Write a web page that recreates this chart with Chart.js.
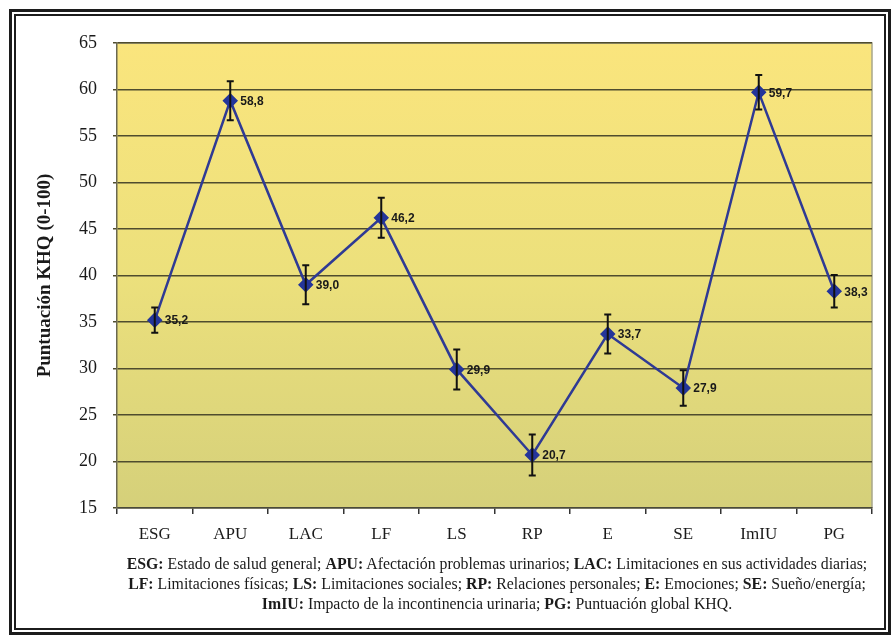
<!DOCTYPE html>
<html>
<head>
<meta charset="utf-8">
<script src="https://cdn.jsdelivr.net/npm/chart.js@4.4.0/dist/chart.umd.min.js"></script>
<style>
  body { margin: 0; background: #fff; }
  #wrap { position: relative; width: 891px; height: 635px; overflow: hidden; }
  #outer { position: absolute; left: 9px; top: 9px; width: 876px; height: 620px; border: 3px solid #1c1c1c; }
  #inner { position: absolute; left: 2px; top: 2px; right: 2px; bottom: 2px; border: 2px solid #1c1c1c; }
  #myChart { position: absolute; left: 0; top: 0; }
  #note { position: absolute; left: 80px; width: 834px; top: 554px; text-align: center;
    font-family: 'Liberation Serif', 'Times New Roman', serif; font-size: 15.8px; line-height: 20px; color: #1a1a1a; }
</style>
</head>
<body>
<div id="wrap">
  <div id="outer"><div id="inner"></div></div>
  <canvas id="myChart" width="891" height="635"></canvas>
  <div id="note">
    <b>ESG:</b> Estado de salud general; <b>APU:</b> Afectación problemas urinarios; <b>LAC:</b> Limitaciones en sus actividades diarias;<br>
    <b>LF:</b> Limitaciones físicas; <b>LS:</b> Limitaciones sociales; <b>RP:</b> Relaciones personales; <b>E:</b> Emociones; <b>SE:</b> Sueño/energía;<br>
    <b>ImIU:</b> Impacto de la incontinencia urinaria; <b>PG:</b> Puntuación global KHQ.
  </div>
</div>
<script>
'use strict';
//global
let chartEl = document.getElementById('myChart');
let ctx = chartEl.getContext('2d');

let categories = ['ESG', 'APU', 'LAC', 'LF', 'LS', 'RP', 'E', 'SE', 'ImIU', 'PG'];
let scores = [35.2, 58.8, 39.0, 46.2, 29.9, 20.7, 33.7, 27.9, 59.7, 38.3];
// +/- error for each score
let errors = [1.35, 2.1, 2.1, 2.15, 2.15, 2.2, 2.1, 1.9, 1.85, 1.75];
let yTicks = [15, 20, 25, 30, 35, 40, 45, 50, 55, 60, 65];

// yellow gradient behind the plot
let plotBackground = {
  id: 'plotBackground',
  beforeDraw(chart) {
    let a = chart.chartArea;
    let c = chart.ctx;
    let g = c.createLinearGradient(0, a.top, 0, a.bottom);
    g.addColorStop(0, '#fae57d');
    g.addColorStop(0.5, '#ece07c');
    g.addColorStop(1, '#d5d07a');
    c.save();
    c.fillStyle = g;
    c.fillRect(a.left, a.top, a.right - a.left, a.bottom - a.top);
    c.strokeStyle = '#a8a68a';
    c.lineWidth = 1.5;
    c.beginPath();
    c.moveTo(a.left, a.top);
    c.lineTo(a.right, a.top);
    c.lineTo(a.right, a.bottom);
    c.stroke();
    c.restore();
  }
};

// error bars and value labels
let errorBars = {
  id: 'errorBars',
  afterDatasetsDraw(chart) {
    let c = chart.ctx;
    let meta = chart.getDatasetMeta(0);
    let y = chart.scales.y;
    c.save();
    c.strokeStyle = '#111';
    c.lineWidth = 2;
    meta.data.forEach(function (pt, i) {
      let top = y.getPixelForValue(scores[i] + errors[i]);
      let bot = y.getPixelForValue(scores[i] - errors[i]);
      c.beginPath();
      c.moveTo(pt.x, top);
      c.lineTo(pt.x, bot);
      c.moveTo(pt.x - 3.5, top);
      c.lineTo(pt.x + 3.5, top);
      c.moveTo(pt.x - 3.5, bot);
      c.lineTo(pt.x + 3.5, bot);
      c.stroke();
    });
    c.fillStyle = '#1a1a1a';
    c.font = 'bold 12px "Liberation Sans", Arial, sans-serif';
    c.textBaseline = 'middle';
    c.textAlign = 'left';
    meta.data.forEach(function (pt, i) {
      c.fillText(scores[i].toFixed(1).replace('.', ','), pt.x + 10, pt.y + 1);
    });
    c.restore();
  }
};

new Chart(ctx, {
  type: 'line',
  data: {
    labels: categories,
    datasets: [{
      data: scores,
      borderColor: '#2f3a94',
      borderWidth: 2.5,
      pointStyle: 'rectRot',
      pointRadius: 6,
      pointBackgroundColor: '#24359a',
      pointBorderColor: '#24359a',
      tension: 0
    }]
  },
  options: {
    responsive: false,
    animation: false,
    layout: { padding: { top: 43, right: 19, bottom: 0, left: 0 } },
    plugins: {
      legend: { display: false },
      tooltip: { enabled: false }
    },
    scales: {
      x: {
        offset: true,
        grid: { offset: true, drawOnChartArea: false, drawTicks: true, tickLength: 6, color: '#333', lineWidth: 1.5 },
        border: { color: '#4a4a3a', width: 1.5 },
        ticks: { color: '#1a1a1a', padding: 10, font: { family: "'Liberation Serif', 'Times New Roman', serif", size: 17 } },
        afterFit(scale) { scale.height = 127; }
      },
      y: {
        min: 15,
        max: 65,
        afterBuildTicks(scale) { scale.ticks = yTicks.map(v => ({ value: v })); },
        grid: { color: '#4f4c2e', lineWidth: 1.5, tickLength: 4, drawTicks: true },
        border: { color: '#6a6850', width: 1.5 },
        ticks: { color: '#1a1a1a', padding: 16, font: { family: "'Liberation Serif', 'Times New Roman', serif", size: 18 } },
        title: {
          display: true,
          text: 'Puntuación KHQ (0-100)',
          color: '#1a1a1a',
          padding: { top: 34, bottom: 0 },
          font: { family: "'Liberation Serif', 'Times New Roman', serif", size: 19, weight: 'bold' }
        },
        afterFit(scale) { scale.width = 117; }
      }
    }
  },
  plugins: [plotBackground, errorBars]
});
</script>
</body>
</html>
